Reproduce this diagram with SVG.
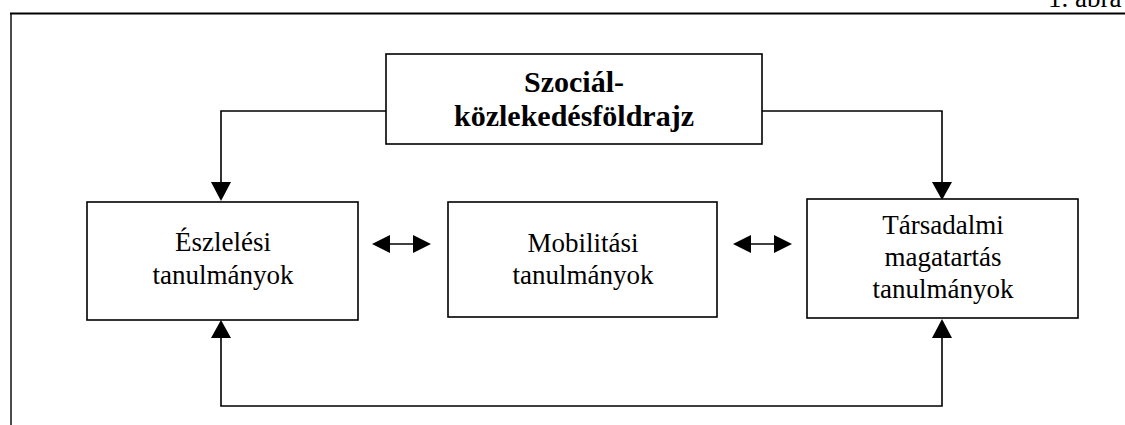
<svg xmlns="http://www.w3.org/2000/svg" width="1125" height="425" viewBox="0 0 1125 425">
<defs>
<style>
.box{fill:#fff;stroke:#000;stroke-width:1.6}
.ln{fill:none;stroke:#000;stroke-width:1.6}
.hd{fill:#000;stroke:none}
.t{font-family:"Liberation Serif","Times New Roman",serif;font-size:27px;fill:#000;text-anchor:middle}
.b{font-weight:bold;font-size:30px}
</style>
</defs>
<rect width="1125" height="425" fill="#fff"/>
<g id="frame">
<line x1="10" y1="13.5" x2="1125" y2="13.5" stroke="#000" stroke-width="2.2"/>
<line x1="11" y1="13" x2="11" y2="425" stroke="#000" stroke-width="1.4"/>
<text x="1048" y="7" font-family="Liberation Serif,serif" font-size="27" fill="#000">1. ábra</text>
</g>
<g id="connectors">
<polyline class="ln" points="386,111 221,111 221,184"/>
<polygon class="hd" points="211,182 231,182 221,201"/>
<polyline class="ln" points="762,111 942,111 942,184"/>
<polygon class="hd" points="932,182 952,182 942,200"/>
<polyline class="ln" points="221,336 221,406 942,406 942,336"/>
<polygon class="hd" points="211,338 231,338 221,320"/>
<polygon class="hd" points="932,338 952,338 942,319"/>
<line class="ln" x1="385" y1="244" x2="418" y2="244"/>
<polygon class="hd" points="372,244 390,235 390,253"/>
<polygon class="hd" points="431,244 413,235 413,253"/>
<line class="ln" x1="746" y1="244" x2="779" y2="244"/>
<polygon class="hd" points="733,244 751,235 751,253"/>
<polygon class="hd" points="792,244 774,235 774,253"/>
</g>
<g id="node-top">
<rect class="box" x="386" y="54" width="376" height="90"/>
<text class="t b" x="574" y="92">Szociál-</text>
<text class="t b" x="574" y="126">közlekedésföldrajz</text>
</g>
<g id="node-eszlelesi">
<rect class="box" x="87" y="202" width="271" height="118"/>
<text class="t" x="223" y="251">Észlelési</text>
<text class="t" x="223" y="284">tanulmányok</text>
</g>
<g id="node-mobilitasi">
<rect class="box" x="448" y="202" width="269" height="115"/>
<text class="t" x="583" y="252">Mobilitási</text>
<text class="t" x="583" y="284">tanulmányok</text>
</g>
<g id="node-tarsadalmi">
<rect class="box" x="807" y="199" width="271" height="119"/>
<text class="t" x="943" y="234">Társadalmi</text>
<text class="t" x="943" y="266">magatartás</text>
<text class="t" x="943" y="298">tanulmányok</text>
</g>
</svg>
